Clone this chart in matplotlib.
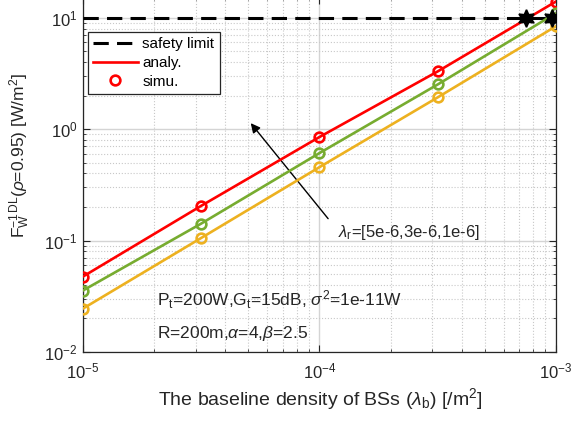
import numpy as np
import matplotlib
matplotlib.use("Agg")
import matplotlib.pyplot as plt
from matplotlib.lines import Line2D
from matplotlib.ticker import LogLocator

plt.rcParams["font.family"] = ["Liberation Sans", "DejaVu Sans"]
plt.rcParams["mathtext.fontset"] = "custom"
plt.rcParams["mathtext.rm"] = "Liberation Sans"
plt.rcParams["mathtext.it"] = "Liberation Sans:italic"
plt.rcParams["mathtext.bf"] = "Liberation Sans:bold"

# ── data ──────────────────────────────────────────────
lambda_b = [1e-5, 3.162e-5, 1e-4, 3.162e-4, 1e-3]
f_lr_5e6 = [0.0475, 0.205, 0.85, 3.30, 14.0]
f_lr_3e6 = [0.0356, 0.142, 0.61, 2.52, 11.0]
f_lr_1e6 = [0.0245, 0.1055, 0.456, 1.93, 8.4]
safety_limit = 10.0
cross_x = [7.46e-4, 9.6e-4]

colors = ["#FF0000", "#77AC30", "#EDB120"]

fig = plt.figure(figsize=(5.72, 4.23), dpi=100)
ax = fig.add_axes([0.145, 0.168, 0.827, 0.84])

ax.axhline(safety_limit, color="black", lw=2.2, dashes=(5, 2.7), zorder=3)

for vals, c in zip([f_lr_5e6, f_lr_3e6, f_lr_1e6], colors):
    ax.plot(lambda_b, vals, color=c, lw=1.9, zorder=4)
    ax.plot(lambda_b, vals, ls="none", marker="o", ms=7, mfc="none",
            mec=c, mew=1.9, zorder=5)

ax.plot(cross_x, [safety_limit] * len(cross_x), ls="none",
        marker=(6, 1, 0), ms=12.5, mfc="black", mec="black", mew=1.2, zorder=6)

ax.set_xscale("log")
ax.set_yscale("log")
ax.set_xlim(1e-5, 1e-3)
ax.set_ylim(1e-2, 10 ** 1.19)
ax.set_xticks([1e-5, 1e-4, 1e-3])
ax.set_yticks([1e-2, 1e-1, 1e0, 1e1])
ax.xaxis.set_minor_locator(LogLocator(base=10, subs=np.arange(2, 10)))
ax.yaxis.set_minor_locator(LogLocator(base=10, subs=np.arange(2, 10)))

ax.grid(True, which="major", color="#d4d4d4", lw=1.0, ls="-", zorder=0)
ax.grid(True, which="minor", color="#c8c8c8", lw=0.8, ls=":", zorder=0)
ax.set_axisbelow(True)

ax.tick_params(which="both", direction="in", top=True, right=True,
               color="#262626", labelcolor="#262626")
ax.tick_params(which="major", length=5, labelsize=12)
ax.tick_params(which="minor", length=2.5)
ax.tick_params(axis="x", which="major", pad=7)
ax.tick_params(axis="y", which="major", pad=4)
for s in ax.spines.values():
    s.set_color("#262626")
    s.set_linewidth(0.9)

ax.set_xlabel(r"The baseline density of BSs ($\lambda_\mathrm{b}$) [/m$^2$]",
              fontsize=14, color="#262626")
ax.xaxis.set_label_coords(0.501, -0.095)
ax.set_ylabel(r"F$_\mathrm{W}^{-1}$$^\mathrm{DL}$($\rho$=0.95) [W/m$^2$]",
              fontsize=12.5, color="#262626")
ax.yaxis.set_label_coords(-0.108, 0.554)

handles = [
    Line2D([], [], color="black", lw=2.2, dashes=(5, 2.7)),
    Line2D([], [], color="#FF0000", lw=1.9),
    Line2D([], [], ls="none", marker="o", ms=7, mfc="none", mec="#FF0000", mew=1.9),
]
leg = ax.legend(handles, ["safety limit", "analy.", "simu."],
                loc="upper left", bbox_to_anchor=(0.0106, 0.90),
                borderaxespad=0, fontsize=11, handlelength=2.9,
                fancybox=False, framealpha=1, edgecolor="#262626",
                borderpad=0.35, labelspacing=0.3, handletextpad=0.3)
leg.get_frame().set_linewidth(0.9)
leg.set_zorder(10)

ax.annotate("", xy=(0.351, 0.650), xytext=(0.522, 0.369),
            xycoords="axes fraction", textcoords="axes fraction",
            arrowprops=dict(arrowstyle="-|>", color="black", lw=1,
                            mutation_scale=14))
ax.text(0.539, 0.335, r"$\lambda_\mathrm{r}$=[5e-6,3e-6,1e-6]",
        transform=ax.transAxes, fontsize=12, va="center", color="#262626")
ax.text(0.156, 0.146,
        r"P$_\mathrm{t}$=200W,G$_\mathrm{t}$=15dB, $\sigma^2$=1e-11W",
        transform=ax.transAxes, fontsize=12.5, va="center", color="#262626")
ax.text(0.156, 0.053, r"R=200m,$\alpha$=4,$\beta$=2.5",
        transform=ax.transAxes, fontsize=12.5, va="center", color="#262626")

fig.savefig("out.png", dpi=100)
